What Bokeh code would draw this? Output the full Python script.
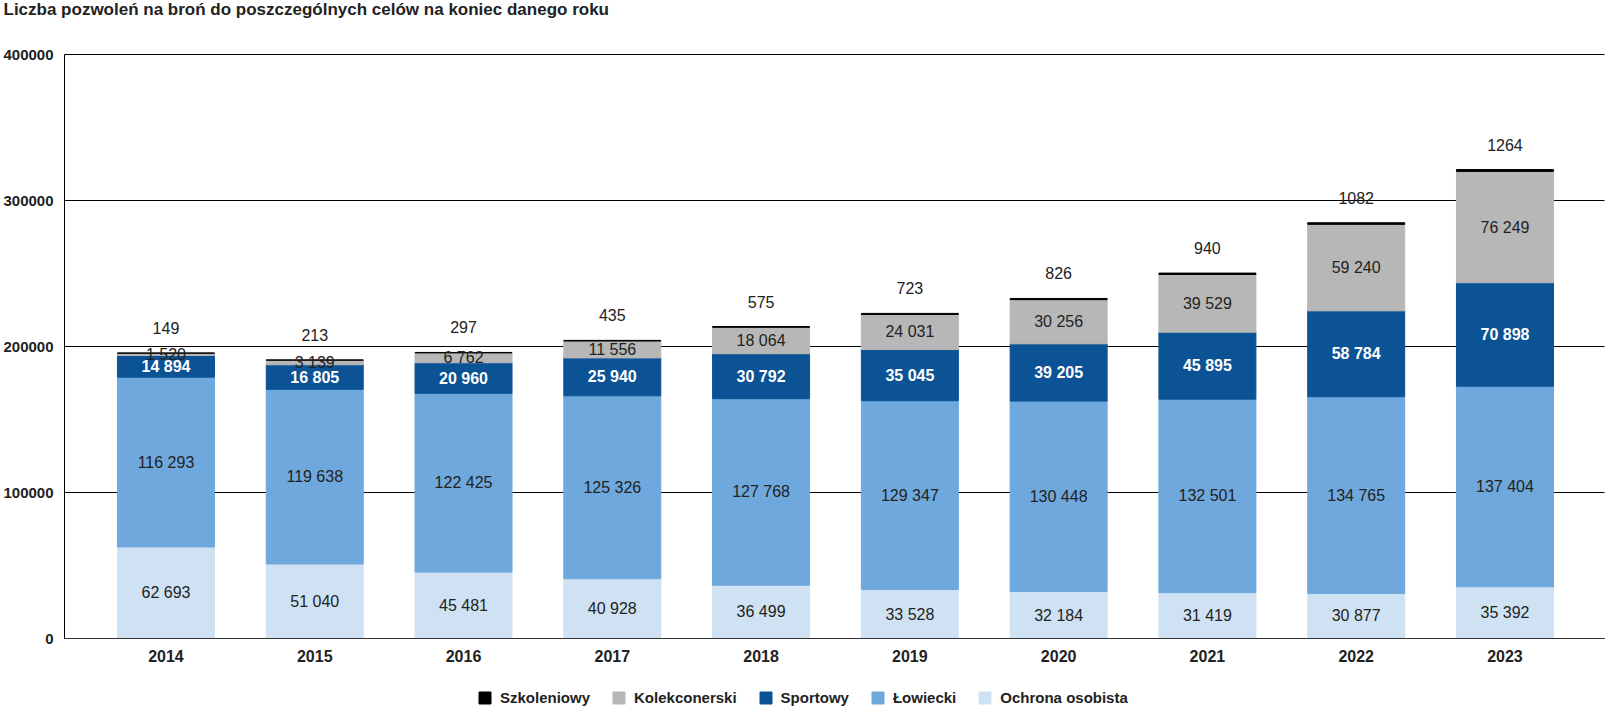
import numpy as np
from bokeh.plotting import figure
from bokeh.models import (Range1d, Legend, LegendItem, ColumnDataSource)
from bokeh.core.properties import value
from bokeh.embed import file_html
from bokeh.resources import INLINE

# ---- data ----
years = [2014, 2015, 2016, 2017, 2018, 2019, 2020, 2021, 2022, 2023]
ochrona = [62693, 51040, 45481, 40928, 36499, 33528, 32184, 31419, 30877, 35392]
lowiecki = [116293, 119638, 122425, 125326, 127768, 129347, 130448, 132501, 134765, 137404]
sportowy = [14894, 16805, 20960, 25940, 30792, 35045, 39205, 45895, 58784, 70898]
kolek = [1520, 3139, 6762, 11556, 18064, 24031, 30256, 39529, 59240, 76249]
szkol = [149, 213, 297, 435, 575, 723, 826, 940, 1082, 1264]

keys = ["ochrona", "lowiecki", "sportowy", "kolek", "szkol"]
names = ["Ochrona osobista", "Łowiecki", "Sportowy", "Kolekconerski", "Szkoleniowy"]
colors = ["#cfe2f3", "#6fa8dc", "#0b5394", "#b7b7b7", "#000000"]
y_ticks = [0, 100000, 200000, 300000, 400000]
title_text = "Liczba pozwoleń na broń do poszczególnych celów na koniec danego roku"

FONT = "Liberation Sans"

# ---- page geometry (pixels) ----
W, H = 1608, 706
PLOT_L, PLOT_R = 64, 1604          # plotting area left / right edge
PLOT_T, PLOT_B = 54, 638           # y of 400000 / y of 0
Y_MAX = 400000

x_left = years[0] - 0.682
x_right = years[-1] + 0.669
upx = (x_right - x_left) / (PLOT_R - PLOT_L)          # x units per pixel
x_start = x_left - PLOT_L * upx
x_end = x_right + (W - PLOT_R) * upx

upy = Y_MAX / (PLOT_B - PLOT_T)                        # y units per pixel
y_end = Y_MAX + PLOT_T * upy
y_start = -(H - PLOT_B) * upy

src = ColumnDataSource(dict(year=years, ochrona=ochrona, lowiecki=lowiecki,
                            sportowy=sportowy, kolek=kolek, szkol=szkol))

p = figure(width=W, height=H,
           x_range=Range1d(x_start, x_end), y_range=Range1d(y_start, y_end),
           x_axis_location=None, y_axis_location=None,
           output_backend="svg", toolbar_location=None, min_border=0)
p.grid.visible = False
p.outline_line_color = None

# ---- grid lines and axis line ----
p.segment(x0=[x_left] * len(y_ticks), x1=[x_right] * len(y_ticks),
          y0=y_ticks, y1=y_ticks, line_color="#000000", line_width=1)

renderers = p.vbar_stack(keys, x="year", width=0.652, source=src,
                         fill_color=colors, line_color=colors, line_width=1)

p.segment(x0=[x_left], x1=[x_left], y0=[0], y1=[Y_MAX],
          line_color="#000000", line_width=1)
p.segment(x0=[x_left], x1=[x_right], y0=[0], y1=[0],
          line_color="#333333", line_width=1)

# ---- y tick labels ----
p.text(x=[x_left] * len(y_ticks), y=y_ticks, text=[str(t) for t in y_ticks],
       x_offset=-11, text_align="right", text_baseline="middle",
       text_font=value(FONT), text_font_size="15px", text_font_style="bold",
       text_color="#222222")

# ---- title ----
p.text(x=[x_start], y=[y_end], text=[title_text], x_offset=3, y_offset=9,
       text_align="left", text_baseline="middle",
       text_font=value(FONT), text_font_size="17px", text_font_style="bold",
       text_color="#222222")

# ---- value labels ----
vals = np.array([ochrona, lowiecki, sportowy, kolek, szkol], dtype=float)
cum = np.cumsum(vals, axis=0)
mids = cum - vals / 2


def fmt(v):
    return f"{int(v):,}".replace(",", " ")


for i in range(4):
    bold = (i == 2)
    p.text(x=years, y=list(mids[i]), text=[fmt(v) for v in vals[i]],
           text_align="center", text_baseline="middle",
           text_font=value(FONT), text_font_size="16px",
           text_font_style="bold" if bold else "normal",
           text_color="#ffffff" if bold else "#222222")

p.text(x=years, y=list(cum[4]), text=[str(v) for v in szkol],
       text_align="center", text_baseline="middle", y_offset=-25,
       text_font=value(FONT), text_font_size="16px", text_color="#222222")

# category labels under the zero line
p.text(x=years, y=[0] * len(years), text=[str(y) for y in years],
       text_align="center", text_baseline="middle", y_offset=17,
       text_font=value(FONT), text_font_size="16px", text_font_style="bold",
       text_color="#222222")

# ---- legend ----
items = [LegendItem(label=names[i], renderers=[renderers[i]]) for i in range(4, -1, -1)]
legend = Legend(items=items, orientation="horizontal", location=(477, 0),
                label_text_font=FONT, label_text_font_size="15px",
                label_text_font_style="bold", label_text_color="#222222",
                glyph_width=15, glyph_height=15, label_height=17,
                label_standoff=8, spacing=21,
                padding=0, margin=0, border_line_color=None,
                background_fill_alpha=0)
p.add_layout(legend)

open("out.html", "w").write(file_html(p, INLINE))
